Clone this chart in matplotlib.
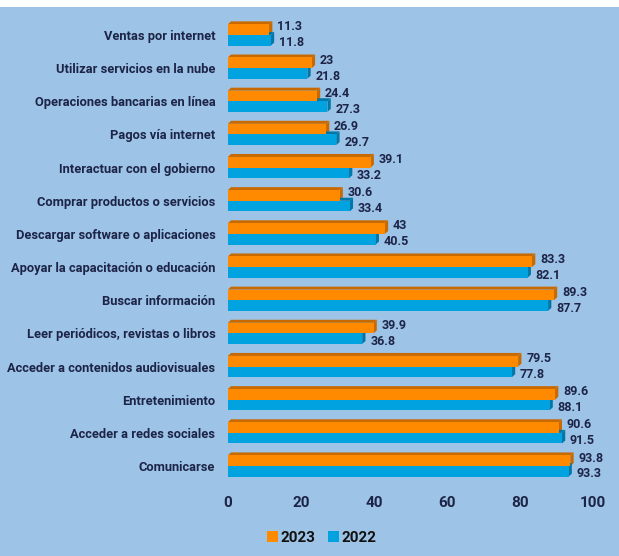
import matplotlib
matplotlib.use("Agg")
import matplotlib.pyplot as plt
from matplotlib.patches import Polygon, Rectangle

categories = [
    "Ventas por internet",
    "Utilizar servicios en la nube",
    "Operaciones bancarias en línea",
    "Pagos vía internet",
    "Interactuar con el gobierno",
    "Comprar productos o servicios",
    "Descargar software o aplicaciones",
    "Apoyar la capacitación o educación",
    "Buscar información",
    "Leer periódicos, revistas o libros",
    "Acceder a contenidos audiovisuales",
    "Entretenimiento",
    "Acceder a redes sociales",
    "Comunicarse",
]
v2023 = [11.3, 23, 24.4, 26.9, 39.1, 30.6, 43, 83.3, 89.3, 39.9, 79.5, 89.6, 90.6, 93.8]
v2022 = [11.8, 21.8, 27.3, 29.7, 33.2, 33.4, 40.5, 82.1, 87.7, 36.8, 77.8, 88.1, 91.5, 93.3]
xticks = [0, 20, 40, 60, 80, 100]

BG = "#9DC3E6"
TXT = "#1C2447"
ORANGE = "#FF8A00"
ORANGE_D = "#C96A00"
BLUE = "#00A3E0"
BLUE_D = "#0077A8"

plt.rcParams["font.family"] = ["Roboto", "DejaVu Sans"]

fig = plt.figure(figsize=(6.19, 5.56), dpi=100)
fig.patch.set_facecolor("white")
fig.add_artist(Rectangle((0, 0), 1, 1 - 7 / 556, transform=fig.transFigure,
                         facecolor=BG, edgecolor="none", zorder=-10))
ax = fig.add_axes([0.368, 0.132, 0.59, 0.835])
ax.set_facecolor("none")

h = 0.32
dx, dy = 0.9, 0.09  # depth of the fake 3D edge
y = list(range(len(categories)))


def bar3d(yc, val, col, dark):
    top = yc - h / 2
    bot = yc + h / 2
    # side and top faces (y axis inverted, so "up" is minus)
    ax.add_patch(Polygon([(val, top), (val + dx, top - dy), (val + dx, bot - dy), (val, bot)],
                         closed=True, facecolor=dark, edgecolor="none", zorder=2))
    ax.add_patch(Polygon([(0, top), (dx, top - dy), (val + dx, top - dy), (val, top)],
                         closed=True, facecolor=dark, edgecolor="none", zorder=2))


for i in y:
    bar3d(i - h / 2, v2023[i], ORANGE, ORANGE_D)
    bar3d(i + h / 2, v2022[i], BLUE, BLUE_D)

ax.barh([i - h / 2 for i in y], v2023, height=h, color=ORANGE, zorder=3, label="2023")
ax.barh([i + h / 2 for i in y], v2022, height=h, color=BLUE, zorder=3, label="2022")

for i in y:
    ax.text(v2023[i] + 2.2, i - h * 0.75, f"{v2023[i]:g}", va="center", ha="left",
            fontsize=9, color=TXT, fontweight="semibold")
    ax.text(v2022[i] + 2.2, i + h * 0.75, f"{v2022[i]:g}", va="center", ha="left",
            fontsize=9, color=TXT, fontweight="semibold")

ax.set_ylim(len(categories) - 0.5, -0.5)
ax.set_xlim(0, 100)
ax.set_yticks(y)
ax.set_yticklabels(categories, fontsize=9.3, color=TXT, fontweight="semibold")
ax.set_xticks(xticks)
ax.set_xticklabels([str(t) for t in xticks], fontsize=11, color=TXT, fontweight="semibold")
ax.tick_params(axis="both", length=0)
ax.tick_params(axis="y", pad=9)
ax.tick_params(axis="x", pad=10)
for s in ax.spines.values():
    s.set_visible(False)

leg = fig.legend(loc="lower center", bbox_to_anchor=(0.52, -0.005), ncol=2, frameon=False,
                 fontsize=11, handlelength=0.7, handleheight=0.7, handletextpad=0.2,
                 columnspacing=0.8)
for t in leg.get_texts():
    t.set_color("#111111")
    t.set_fontweight("bold")

fig.savefig("out.png", dpi=100)
